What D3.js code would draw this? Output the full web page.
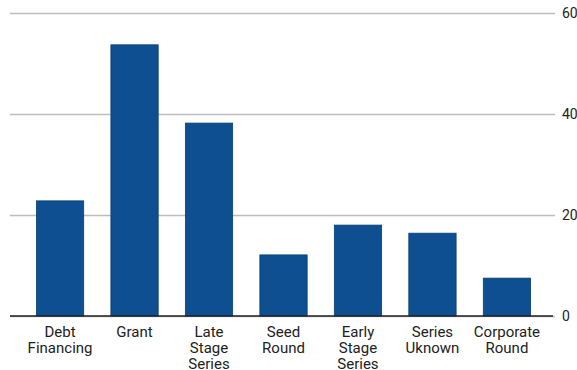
<!DOCTYPE html>
<html><head><meta charset="utf-8">
<script src="https://cdn.jsdelivr.net/npm/d3@7"></script>
<style>body{margin:0;background:#fff;}svg{display:block;font-family:Roboto,sans-serif;}</style>
</head><body><svg id="c" width="577" height="370"></svg>
<script>
const categories = [["Debt","Financing"],["Grant"],["Late","Stage","Series"],["Seed","Round"],["Early","Stage","Series"],["Series","Uknown"],["Corporate","Round"]];
const values = [22.8, 53.7, 38.2, 12.1, 18.0, 16.4, 7.5];
const yTicks = [0, 20, 40, 60];
const title = "Funding Raised by Type, $M";

const svg = d3.select("#c");
const keys = categories.map(c => c.join(" "));
const x = d3.scaleBand().domain(keys).range([23, 544]).paddingInner(0.365).paddingOuter(0.18);
const y = d3.scaleLinear().domain([0, 60]).range([316, 13]);

svg.append("text").attr("x", 288).attr("y", -3).attr("text-anchor", "middle")
  .attr("font-size", 16).attr("font-weight", "bold").attr("fill", "#0d4f91").text(title);

const ax = d3.axisRight(y).tickValues(yTicks).tickSize(-545).tickPadding(7);
const g = svg.append("g").attr("transform", "translate(555,0)").call(ax);
g.select(".domain").remove();
g.selectAll(".tick line").attr("stroke", "#bdbdbd").attr("stroke-width", 1.3);
g.selectAll(".tick text").attr("font-size", 14).attr("fill", "#222").attr("font-family", "Roboto,sans-serif");

svg.selectAll("rect.bar").data(values).join("rect").attr("class", "bar")
  .attr("x", (d, i) => x(keys[i])).attr("width", x.bandwidth())
  .attr("y", d => y(d)).attr("height", d => y(0) - y(d))
  .attr("fill", "#0d4f91").attr("stroke", "#0a3f75").attr("stroke-width", 0.8);

svg.append("line").attr("x1", 10).attr("x2", 553).attr("y1", y(0)).attr("y2", y(0))
  .attr("stroke", "#222").attr("stroke-width", 1.3);

const lab = svg.append("g");
categories.forEach((c, i) => {
  c.forEach((w, j) => lab.append("text")
    .attr("x", x(keys[i]) + x.bandwidth() / 2).attr("y", 337 + j * 15.8)
    .attr("text-anchor", "middle").attr("font-size", 15).attr("fill", "#222").text(w));
});
</script></body></html>
